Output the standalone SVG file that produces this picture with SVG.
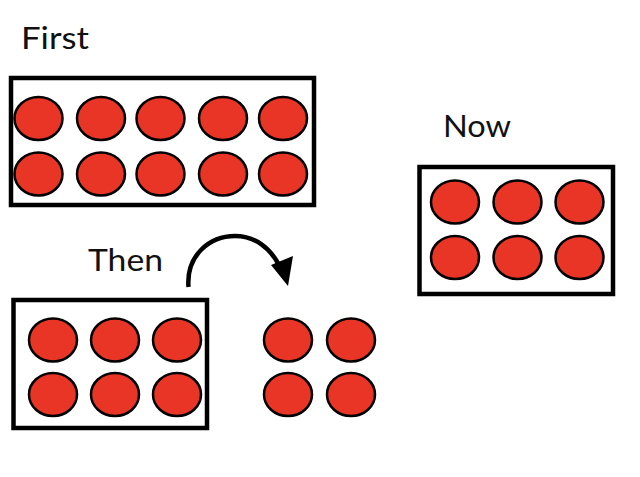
<svg xmlns="http://www.w3.org/2000/svg" width="640" height="477" viewBox="0 0 640 477">
<style>
.box{fill:#fff;stroke:#000;stroke-width:4.5}
.dot{fill:#E83525;stroke:#000;stroke-width:2.5}
.lbl{font-family:"Lato","Open Sans",sans-serif;font-size:30px;fill:#111}
</style>
<rect width="640" height="477" fill="#fff"/>
<g id="first">
<text class="lbl" x="21" y="49" textLength="68" lengthAdjust="spacingAndGlyphs">First</text>
<rect class="box" x="11" y="78" width="303" height="127"/>
<ellipse class="dot" cx="38.5" cy="118.5" rx="24" ry="21.5"/>
<ellipse class="dot" cx="101" cy="118.5" rx="24" ry="21.5"/>
<ellipse class="dot" cx="160.5" cy="118.5" rx="24" ry="21.5"/>
<ellipse class="dot" cx="223" cy="118.5" rx="24" ry="21.5"/>
<ellipse class="dot" cx="283" cy="118.5" rx="24" ry="21.5"/>
<ellipse class="dot" cx="38.5" cy="174" rx="24" ry="21.5"/>
<ellipse class="dot" cx="101" cy="174" rx="24" ry="21.5"/>
<ellipse class="dot" cx="160.5" cy="174" rx="24" ry="21.5"/>
<ellipse class="dot" cx="223" cy="174" rx="24" ry="21.5"/>
<ellipse class="dot" cx="283" cy="174" rx="24" ry="21.5"/>
</g>
<g id="then">
<text class="lbl" x="88" y="271" textLength="75" lengthAdjust="spacingAndGlyphs">Then</text>
<rect class="box" x="13.5" y="300" width="193.5" height="128"/>
<ellipse class="dot" cx="53" cy="340" rx="24" ry="21.5"/>
<ellipse class="dot" cx="115" cy="340" rx="24" ry="21.5"/>
<ellipse class="dot" cx="177" cy="340" rx="24" ry="21.5"/>
<ellipse class="dot" cx="53" cy="394.5" rx="24" ry="21.5"/>
<ellipse class="dot" cx="115" cy="394.5" rx="24" ry="21.5"/>
<ellipse class="dot" cx="177" cy="394.5" rx="24" ry="21.5"/>
</g>
<g id="moved">
<ellipse class="dot" cx="288" cy="340" rx="24" ry="21.5"/>
<ellipse class="dot" cx="351" cy="340" rx="24" ry="21.5"/>
<ellipse class="dot" cx="288" cy="394.5" rx="24" ry="21.5"/>
<ellipse class="dot" cx="351" cy="394.5" rx="24" ry="21.5"/>
</g>
<g id="now">
<text class="lbl" x="443" y="137" textLength="68" lengthAdjust="spacingAndGlyphs">Now</text>
<rect class="box" x="419.5" y="167" width="193.5" height="127"/>
<ellipse class="dot" cx="455" cy="202" rx="24" ry="21.5"/>
<ellipse class="dot" cx="517.5" cy="202" rx="24" ry="21.5"/>
<ellipse class="dot" cx="579.5" cy="202" rx="24" ry="21.5"/>
<ellipse class="dot" cx="455" cy="257.5" rx="24" ry="21.5"/>
<ellipse class="dot" cx="517.5" cy="257.5" rx="24" ry="21.5"/>
<ellipse class="dot" cx="579.5" cy="257.5" rx="24" ry="21.5"/>
</g>
<g id="connectors">
<path d="M188.5,287 C186,255 210,236 235,236 C255,236 270,248 279,265" fill="none" stroke="#000" stroke-width="4.5"/>
<polygon points="288,286 271,265 293,256" fill="#000"/>
</g>
</svg>
